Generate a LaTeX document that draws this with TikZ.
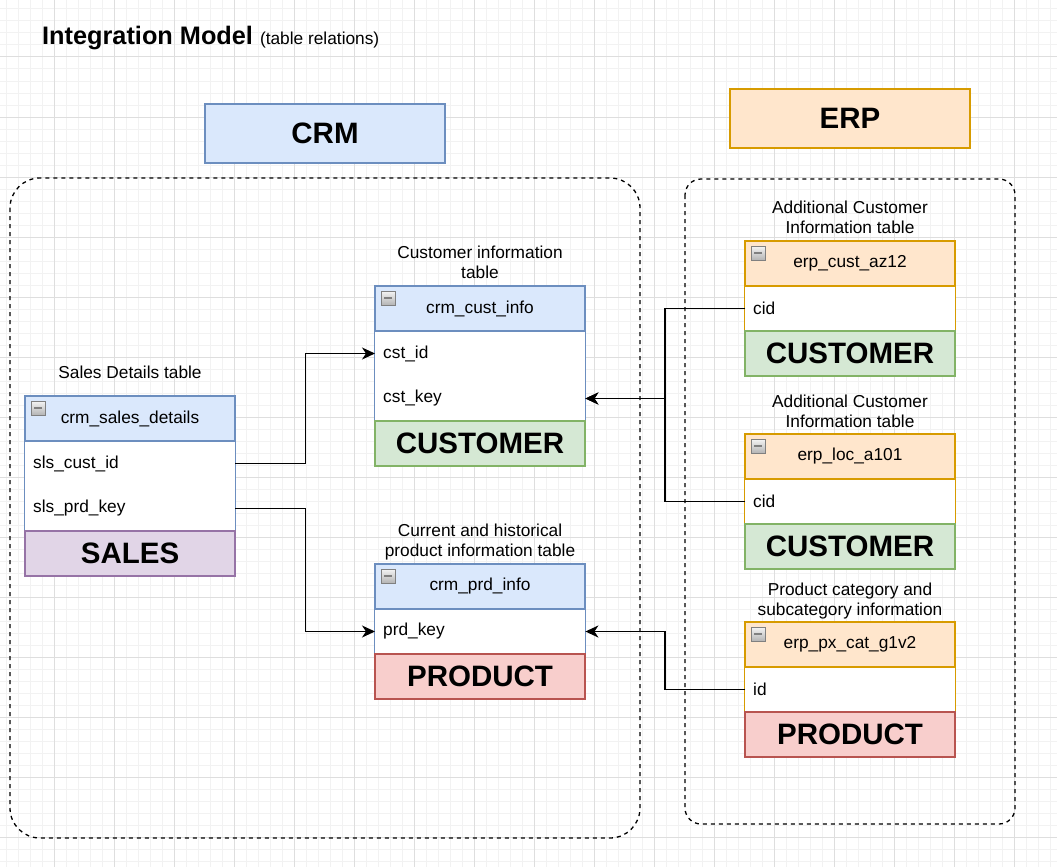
\documentclass[tikz,border=0pt]{standalone}
\usepackage{fontspec}
\setmainfont{Liberation Sans}
\usetikzlibrary{arrows.meta}

\definecolor{crmfill}{HTML}{DAE8FC}
\definecolor{crmline}{HTML}{6C8EBF}
\definecolor{erpfill}{HTML}{FFE6CC}
\definecolor{erpline}{HTML}{D79B00}
\definecolor{custfill}{HTML}{D5E8D4}
\definecolor{custline}{HTML}{82B366}
\definecolor{prodfill}{HTML}{F8CECC}
\definecolor{prodline}{HTML}{B85450}
\definecolor{salefill}{HTML}{E1D5E7}
\definecolor{saleline}{HTML}{9673A6}
\definecolor{gridminor}{HTML}{F2F2F2}
\definecolor{gridmajor}{HTML}{DEDEDE}

\newcommand{\fsmall}{\fontsize{17.3pt}{20.5pt}\selectfont}
\newcommand{\fbig}{\fontsize{29.5pt}{33pt}\selectfont}
\newcommand{\ftitle}{\fontsize{25.3pt}{30pt}\selectfont}

\tikzset{
    hdr/.style={minimum width=210pt, minimum height=45pt, inner sep=0pt, line width=1.2pt, font=\fsmall},
    crmhdr/.style={hdr, fill=crmfill, draw=crmline},
    erphdr/.style={hdr, fill=erpfill, draw=erpline},
    field/.style={anchor=west, fill=white, minimum width=210pt, minimum height=45pt,
        text width=194pt, inner xsep=8pt, inner ysep=0pt, align=left, font=\fsmall},
    band/.style={minimum width=210pt, minimum height=45pt, inner sep=0pt, line width=1.2pt, font=\fbig\bfseries},
    custband/.style={band, fill=custfill, draw=custline},
    prodband/.style={band, fill=prodfill, draw=prodline},
    saleband/.style={band, fill=salefill, draw=saleline},
    frame/.style={line width=1.2pt},
    minusbox/.style={draw=gray, top color=gray!10, bottom color=gray!60, minimum size=14pt, inner sep=0pt,
        line width=1pt,
        path picture={\draw[line width=2pt] ([xshift=3pt]path picture bounding box.west)
            -- ([xshift=-3pt]path picture bounding box.east);}},
    caption/.style={anchor=south, align=center, inner sep=0pt, text depth=0pt, font=\fsmall},
    system/.style={minimum width=240pt, minimum height=59pt, inner sep=0pt, line width=1.2pt, font=\fbig\bfseries},
    container/.style={draw, dash pattern=on 4pt off 4pt, line width=1.3pt},
    link/.style={line width=1.8pt, -{Stealth[length=13pt,width=12pt,inset=4pt]}}
}

\begin{document}
\begin{tikzpicture}[x=1pt, y=-1pt]
    \useasboundingbox (0,0) rectangle (1057,867);
    \fill[white] (0,0) rectangle (1057,867);

    % grid
    \foreach \gx in {6,18,...,1050}
        \draw[gridminor, line width=1pt] (\gx,0) -- (\gx,867);
    \foreach \gy in {9,21,...,861}
        \draw[gridminor, line width=1pt] (0,\gy) -- (1057,\gy);
    \foreach \gx in {54,114,...,1014}
        \draw[gridmajor, line width=1pt] (\gx,0) -- (\gx,867);
    \foreach \gy in {57,117,...,837}
        \draw[gridmajor, line width=1pt] (0,\gy) -- (1057,\gy);

    % title
    \node[anchor=base west, inner sep=0pt, font=\ftitle\bfseries] (title) at (42,45)
        {Integration Model {\mdseries\fsmall(table relations)}};

    % systems
    \node[system, fill=crmfill, draw=crmline] (crm) at (325,133.5) {CRM};
    \node[system, fill=erpfill, draw=erpline] (erp) at (850,118.5) {ERP};
    \draw[container, rounded corners=30pt] (10,178) rectangle (640,838);
    \draw[container, rounded corners=16pt] (685,179) rectangle (1015,824);

    % crm_sales_details
    \node[caption] (sdCap) at (130,379) {Sales Details table};
    \node[crmhdr] (sdH) at (130,418.5) {crm\_sales\_details};
    \node[field] (sdCust) at (25,463.5) {sls\_cust\_id};
    \node[field] (sdPrd) at (25,508.5) {sls\_prd\_key};
    \draw[frame, crmline] (sdH.south west) rectangle (sdPrd.south east);
    \node[saleband] (sdB) at (130,553.5) {SALES};
    \node[minusbox] (sdI) at ([shift={(14,13)}]sdH.north west) {};

    % crm_cust_info
    \node[caption] (ciCap) at (480,279) {Customer information\\table};
    \node[crmhdr] (ciH) at (480,308.5) {crm\_cust\_info};
    \node[field] (ciId) at (375,353.5) {cst\_id};
    \node[field] (ciKey) at (375,398.5) {cst\_key};
    \draw[frame, crmline] (ciH.south west) rectangle (ciKey.south east);
    \node[custband] (ciB) at (480,443.5) {CUSTOMER};
    \node[minusbox] (ciI) at ([shift={(14,13)}]ciH.north west) {};

    % crm_prd_info
    \node[caption] (piCap) at (480,557) {Current and historical\\product information table};
    \node[crmhdr] (piH) at (480,586.5) {crm\_prd\_info};
    \node[field] (piKey) at (375,631.5) {prd\_key};
    \draw[frame, crmline] (piH.south west) rectangle (piKey.south east);
    \node[prodband] (piB) at (480,676.5) {PRODUCT};
    \node[minusbox] (piI) at ([shift={(14,13)}]piH.north west) {};

    % erp_cust_az12
    \node[caption] (azCap) at (850,234) {Additional Customer\\Information table};
    \node[erphdr] (azH) at (850,263.5) {erp\_cust\_az12};
    \node[field] (azCid) at (745,308.5) {cid};
    \draw[frame, erpline] (azH.south west) rectangle (azCid.south east);
    \node[custband] (azB) at (850,353.5) {CUSTOMER};
    \node[minusbox] (azI) at ([shift={(14,13)}]azH.north west) {};

    % erp_loc_a101
    \node[caption] (locCap) at (850,428) {Additional Customer\\Information table};
    \node[erphdr] (locH) at (850,456.5) {erp\_loc\_a101};
    \node[field] (locCid) at (745,501.5) {cid};
    \draw[frame, erpline] (locH.south west) rectangle (locCid.south east);
    \node[custband] (locB) at (850,546.5) {CUSTOMER};
    \node[minusbox] (locI) at ([shift={(14,13)}]locH.north west) {};

    % erp_px_cat_g1v2
    \node[caption] (pxCap) at (850,616) {Product category and\\subcategory information};
    \node[erphdr] (pxH) at (850,644.5) {erp\_px\_cat\_g1v2};
    \node[field] (pxId) at (745,689.5) {id};
    \draw[frame, erpline] (pxH.south west) rectangle (pxId.south east);
    \node[prodband] (pxB) at (850,734.5) {PRODUCT};
    \node[minusbox] (pxI) at ([shift={(14,13)}]pxH.north west) {};

    % relations
    \draw[link] (sdCust.east) -- ++(70,0) |- (ciId.west);
    \draw[link] (sdPrd.east) -- ++(70,0) |- (piKey.west);
    \draw[link] (azCid.west) -- ++(-80,0) |- (ciKey.east);
    \draw[link] (locCid.west) -- ++(-80,0) |- (ciKey.east);
    \draw[link] (pxId.west) -- ++(-80,0) |- (piKey.east);
\end{tikzpicture}
\end{document}
